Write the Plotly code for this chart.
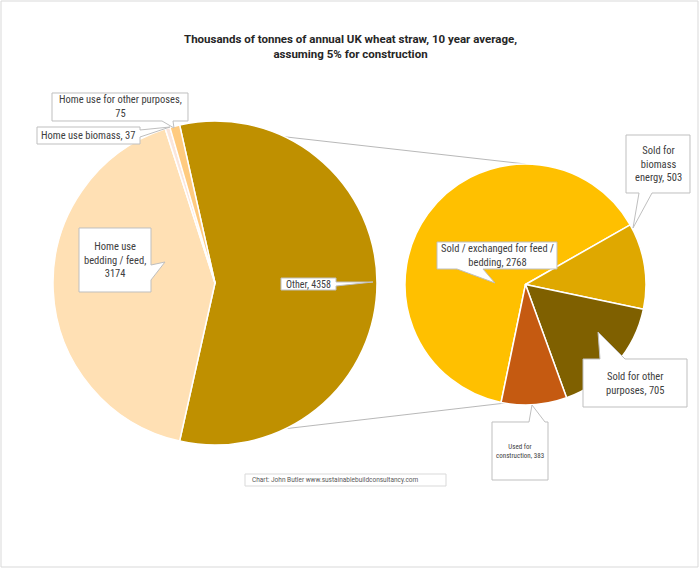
import math
import plotly.graph_objects as go

W, H = 700, 569

# ---- data ----
main_labels = ["Other", "Home use bedding / feed", "Home use biomass", "Home use for other purposes"]
main_values = [4358, 3174, 37, 75]
main_colors = ["#BF9000", "#FFE0B4", "#FBE6DC", "#FFCB80"]

sub_labels = ["Sold / exchanged for feed / bedding", "Sold for biomass energy", "Sold for other purposes", "Used for construction"]
sub_values = [2768, 503, 705, 383]
sub_colors = ["#FFC000", "#DFA800", "#7F6000", "#C55A11"]

title_text = "Thousands of tonnes of annual UK wheat straw, 10 year average,<br>assuming 5% for construction"
footer_text = "Chart: John Butler www.sustainablebuildconsultancy.com"

# ---- geometry helpers (pixel -> paper) ----
def X(px):
    return px / W

def Y(py):
    return 1 - py / H

# left pie geometry (pixels)
c1x, c1y, r1 = 215, 283, 162
# right pie geometry
c2x, c2y, r2 = 525.5, 284.5, 120.5

total_main = sum(main_values)
frac_other = main_values[0] / total_main
rot1 = 90 - frac_other * 180
end1 = 90 + frac_other * 180

total_sub = sum(sub_values)
rot2 = 60.3 - 360 * sub_values[0] / total_sub

fig = go.Figure()
fig.add_trace(go.Pie(
    values=main_values, labels=main_labels, sort=False, direction="clockwise",
    rotation=rot1, textinfo="none", hoverinfo="label+value",
    marker=dict(colors=main_colors, line=dict(color="white", width=1.5)),
    domain=dict(x=[X(c1x - r1), X(c1x + r1)], y=[Y(c1y + r1), Y(c1y - r1)]),
    showlegend=False,
))
fig.add_trace(go.Pie(
    values=sub_values, labels=sub_labels, sort=False, direction="clockwise",
    rotation=rot2, textinfo="none", hoverinfo="label+value",
    marker=dict(colors=sub_colors, line=dict(color="white", width=1.5)),
    domain=dict(x=[X(c2x - r2), X(c2x + r2)], y=[Y(c2y + r2), Y(c2y - r2)]),
    showlegend=False,
))

shapes = []
# chart border
shapes.append(dict(type="rect", xref="paper", yref="paper", x0=X(1), x1=X(698), y0=Y(567), y1=Y(1),
                   line=dict(color="#D9D9D9", width=1), layer="below"))

# connector lines
def pt(cx, cy, r, ang):
    a = math.radians(ang)
    return cx + r * math.sin(a), cy - r * math.cos(a)

ux, uy = pt(c1x, c1y, r1, rot1)
lx, ly = pt(c1x, c1y, r1, end1)
for (ax, ay), (bx, by) in [((ux, uy), (c2x, c2y - r2)), ((lx, ly), (c2x - 20, c2y + r2 - 2))]:
    shapes.append(dict(type="line", xref="paper", yref="paper", x0=X(ax), y0=Y(ay), x1=X(bx), y1=Y(by),
                       line=dict(color="#A6A6A6", width=0.8), layer="below"))

def bubble(x0, y0, x1, y1, side, b0, b1, tip):
    # clockwise path in pixel coords
    pts = [(x0, y0)]
    if side == "top":
        pts += [(b0, y0), tip, (b1, y0)]
    pts.append((x1, y0))
    if side == "right":
        pts += [(x1, b0), tip, (x1, b1)]
    pts.append((x1, y1))
    if side == "bottom":
        pts += [(b1, y1), tip, (b0, y1)]
    pts.append((x0, y1))
    d = "M " + " L ".join(f"{X(px):.5f},{Y(py):.5f}" for px, py in pts) + " Z"
    return dict(type="path", xref="paper", yref="paper", path=d,
                fillcolor="white", line=dict(color="#BFBFBF", width=1), layer="above")

callouts = [
    # box, pointer side, base, tip, text, font size
    ((52, 93, 188, 121), "bottom", (162, 173), (174, 128), "Home use for other purposes,<br>75", 10.5),
    ((37, 127, 140, 144), "right", (130, 137), (170, 127), "Home use biomass, 37", 10.5),
    ((79, 228, 151, 292), "right", (265, 280), (165, 262), "Home use<br>bedding / feed,<br>3174", 10.5),
    ((281, 278, 336, 290), "right", (282, 286), (373, 282), "Other, 4358", 10),
    ((437, 242, 557, 269), "bottom", (457, 483), (495, 283), "Sold / exchanged for feed /<br>bedding, 2768", 10.5),
    ((626, 135, 690, 193), "bottom", (639, 652), (633, 228), "Sold for<br>biomass<br>energy, 503", 10.5),
    ((583, 359, 687, 407), "top", (600, 625), (598, 332), "Sold for other<br>purposes, 705", 10.5),
    ((492, 422, 548, 480), "top", (529, 545), (532, 405), "Used for<br>construction, 383", 7),
]

annotations = []
for (bx0, by0, bx1, by1), side, (b0, b1), tip, txt, fs in callouts:
    shapes.append(bubble(bx0, by0, bx1, by1, side, b0, b1, tip))
    annotations.append(dict(xref="paper", yref="paper", x=X((bx0 + bx1) / 2), y=Y((by0 + by1) / 2),
                            text=txt, showarrow=False, xanchor="center", yanchor="middle",
                            font=dict(family="Liberation Sans Narrow, Roboto Condensed, Roboto, sans-serif",
                                      size=fs, color="#404040"),
                            align="center"))

# footer box
shapes.append(dict(type="rect", xref="paper", yref="paper", x0=X(245), x1=X(446), y0=Y(486), y1=Y(474),
                   line=dict(color="#D9D9D9", width=1), fillcolor="white", layer="above"))
annotations.append(dict(xref="paper", yref="paper", x=X(250), y=Y(480), text=footer_text, showarrow=False,
                        xanchor="left", yanchor="middle",
                        font=dict(family="Liberation Sans Narrow, Roboto, sans-serif", size=6.5, color="#595959")))

# title
annotations.append(dict(xref="paper", yref="paper", x=X(350), y=Y(47), text="<b>" + title_text.replace("<br>", "</b><br><b>") + "</b>",
                        showarrow=False, xanchor="center", yanchor="middle",
                        font=dict(family="Liberation Sans Narrow, Roboto, sans-serif", size=11.5, color="#262626")))

fig.update_layout(
    width=W, height=H, margin=dict(l=0, r=0, t=0, b=0),
    paper_bgcolor="white", plot_bgcolor="white",
    shapes=shapes, annotations=annotations, showlegend=False,
)

fig.write_html("out.html")
